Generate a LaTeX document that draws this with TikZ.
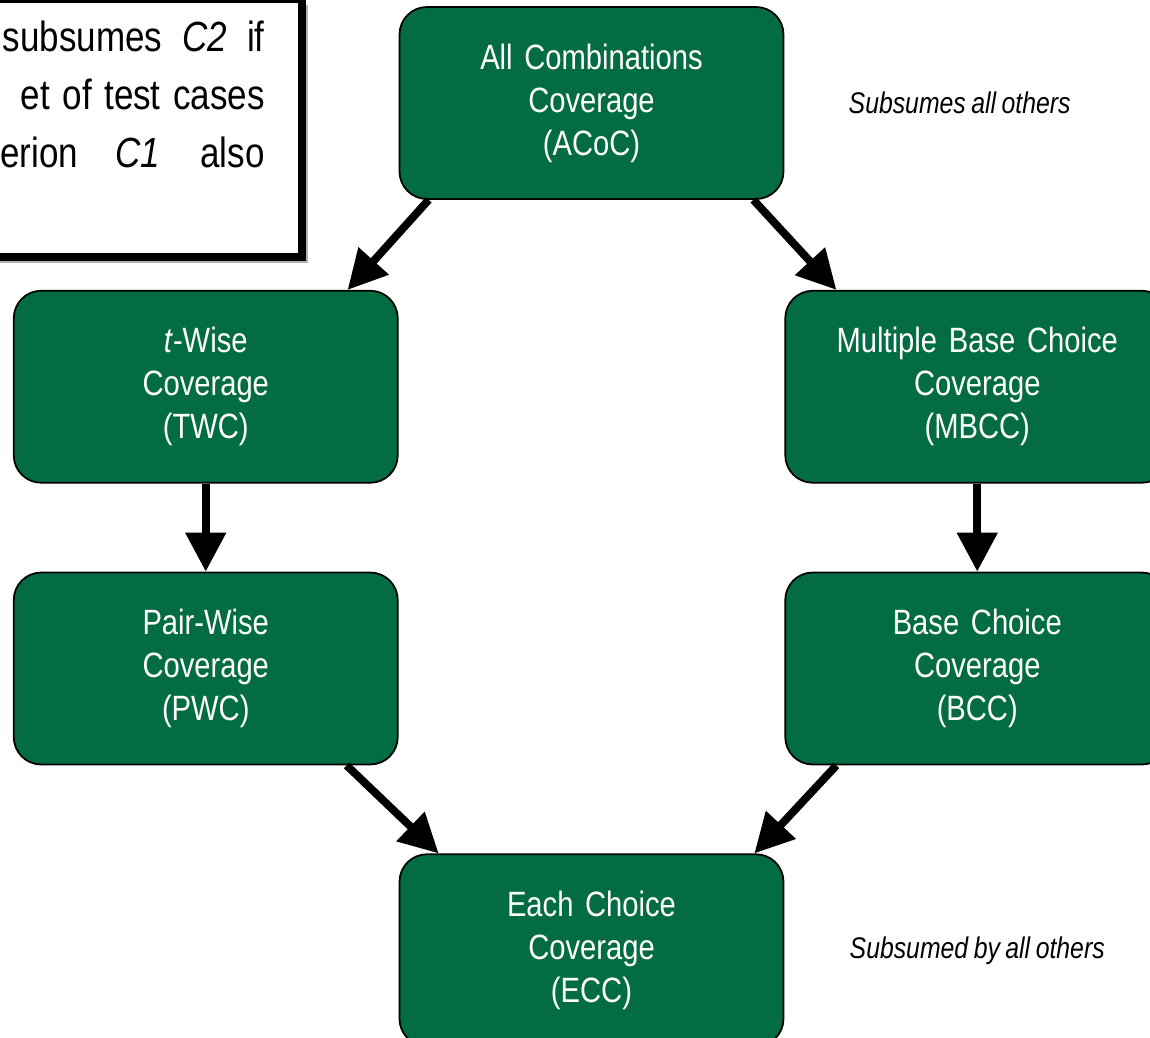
\documentclass[tikz,border=0pt]{standalone}
\usepackage{fontspec}
\setmainfont[FakeStretch=0.83, WordSpace=0.8]{Liberation Sans}
\usepackage{xcolor}
\usepackage{tikz}
\usetikzlibrary{arrows.meta, positioning, shadows}
\definecolor{covgreen}{RGB}{3,108,66}

\begin{document}
\begin{tikzpicture}[
    node distance=1.8cm,
    block/.style={rectangle, rounded corners=0.55cm, draw, line width=1pt, fill=covgreen, text=white, minimum width=7.68cm, minimum height=3.84cm, text width=7cm, align=center, font=\fontsize{20}{24.5}\selectfont},
    remark/.style={font=\fontsize{17}{20}\selectfont\itshape, inner sep=0pt, anchor=west},
    notebox/.style={rectangle, draw, line width=4.5pt, fill=white, minimum width=7.24cm, minimum height=5.16cm, drop shadow={shadow xshift=3.5pt, shadow yshift=-3.5pt, fill=black, opacity=0.3}},
    arrow/.style={-{Triangle[length=0.78cm, width=0.78cm]}, line width=4.5pt}
]
\path[use as bounding box, clip] (0,0) rectangle (23,-20.76);

\node[notebox] (note) at (2.42,-2.56) {};
\node[anchor=north east, inner sep=0pt, align=right, font=\fontsize{24}{33}\selectfont] (notetext) at (5.3,-0.42)
    {subsumes\hspace{0.4cm}\textit{C2}\hspace{0.4cm}if\\et\hspace{0.25cm}of\hspace{0.25cm}test\hspace{0.25cm}cases\\erion\hspace{0.75cm}\textit{C1}\hspace{0.8cm}also};

\node[block] (acoc) at (11.83,-2.06) {All Combinations\\Coverage\\(ACoC)};
\node[block, below left=1.8cm and 0cm of acoc] (twc) {\textit{t}-Wise\\Coverage\\(TWC)};
\node[block, below right=1.8cm and 0cm of acoc] (mbcc) {Multiple Base Choice\\Coverage\\(MBCC)};
\node[block, below=1.76cm of twc] (pwc) {Pair-Wise\\Coverage\\(PWC)};
\node[block, below=1.76cm of mbcc] (bcc) {Base Choice\\Coverage\\(BCC)};
\node[block, below right=1.76cm and 0cm of pwc] (ecc) {Each Choice\\Coverage\\(ECC)};

\node[remark, right=1.28cm of acoc] (top) {Subsumes all others};
\node[remark, right=1.3cm of ecc] (bottom) {Subsumed by all others};

\draw[arrow] ([xshift=0.6cm]acoc.south west) -- ([xshift=-1.02cm]twc.north east);
\draw[arrow] ([xshift=-0.62cm]acoc.south east) -- ([xshift=1.04cm]mbcc.north west);
\draw[arrow] (twc) -- (pwc);
\draw[arrow] (mbcc) -- (bcc);
\draw[arrow] ([xshift=-1.04cm]pwc.south east) -- ([xshift=0.8cm]ecc.north west);
\draw[arrow] ([xshift=1.04cm]bcc.south west) -- ([xshift=-0.6cm]ecc.north east);
\end{tikzpicture}
\end{document}
